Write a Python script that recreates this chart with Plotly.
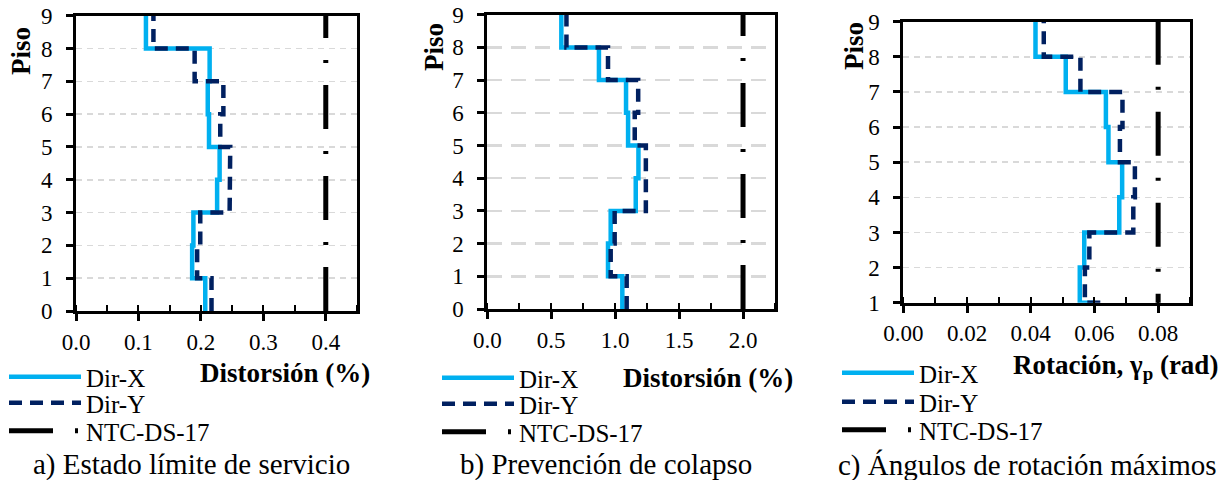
import plotly.graph_objects as go

# ---------------- data ----------------
storeys = [1, 2, 3, 4, 5, 6, 7, 8, 9]

# a) Estado límite de servicio  (drift %, per storey)
a_dir_x = [0.207, 0.186, 0.188, 0.226, 0.230, 0.213, 0.211, 0.214, 0.112]
a_dir_y = [0.217, 0.194, 0.199, 0.246, 0.247, 0.231, 0.236, 0.190, 0.124]
a_limit = 0.4

# b) Prevención de colapso (drift %, per storey)
b_dir_x = [1.056, 0.944, 0.965, 1.161, 1.182, 1.101, 1.085, 0.873, 0.579]
b_dir_y = [1.090, 0.965, 0.996, 1.240, 1.240, 1.153, 1.180, 0.944, 0.619]
b_limit = 2.0

# c) Ángulos de rotación máximos (rad, per storey)
c_dir_x = [0.0594, 0.0554, 0.0568, 0.0678, 0.0687, 0.0644, 0.0636, 0.0510, 0.0415]
c_dir_y = [0.0640, 0.0570, 0.0584, 0.0722, 0.0727, 0.0680, 0.0688, 0.0556, 0.0441]
c_limit = 0.08

series_names = ["Dir-X", "Dir-Y", "NTC-DS-17"]
captions = ["a) Estado límite de servicio", "b) Prevención de colapso",
            "c) Ángulos de rotación máximos"]
x_titles = ["<b>Distorsión (%)</b>", "<b>Distorsión (%)</b>",
            "<b>Rotación, γ<sub>p</sub> (rad)</b>"]

# ---------------- styling ----------------
W, H = 1228, 480
FONT = "Liberation Serif"
C_X = "#00B0F0"
C_Y = "#002060"
C_L = "#000000"


def steps(vals):
    xs, ys = [], []
    for s, v in zip(storeys, vals):
        xs += [v, v]
        ys += [s - 1, s]
    return xs, ys


def fx(px):
    return px / W


def fy(py):
    return 1 - py / H


panels = [
    dict(xd=[76, 357], yd=[15.7, 311], xr=[0, 0.45], dt=0.1, mdt=0.05, fmt=".1f",
         yr=[0, 9], dx=a_dir_x, dy=a_dir_y, lim=a_limit, griddash="6px,5px", gw=1.5,
         leg_x=4, leg_y=[377, 403, 431], title_x=372, title_y=373,
         piso=(21, 51), cap=(191, 464)),
    dict(xd=[487.3, 775], yd=[14.7, 309], xr=[0, 2.25], dt=0.5, mdt=0.25, fmt=".1f",
         yr=[0, 9], dx=b_dir_x, dy=b_dir_y, lim=b_limit, griddash="15px,9px", gw=2.5,
         leg_x=437, leg_y=[378, 404, 432], title_x=795, title_y=378,
         piso=(434, 47), cap=(606, 464)),
    dict(xd=[903.3, 1190], yd=[21.7, 302.7], xr=[0, 0.09], dt=0.02, mdt=0.01, fmt=".2f",
         yr=[1, 9], dx=c_dir_x, dy=c_dir_y, lim=c_limit, griddash="6px,5px", gw=1.5,
         leg_x=837, leg_y=[373, 402, 430], title_x=1220, title_y=367,
         piso=(854, 46), cap=(1027, 465)),
]

fig = go.Figure()
annotations = []
layout = {}

for i, p in enumerate(panels):
    n = i + 1
    xa = "x" if n == 1 else f"x{n}"
    ya = "y" if n == 1 else f"y{n}"
    xkey = "xaxis" if n == 1 else f"xaxis{n}"
    ykey = "yaxis" if n == 1 else f"yaxis{n}"
    lids = [3 * i + k + 1 for k in range(3)]
    lnames = ["legend" if lid == 1 else f"legend{lid}" for lid in lids]

    xs, ys = steps(p["dx"])
    fig.add_trace(go.Scatter(x=xs, y=ys, mode="lines", name=series_names[0],
                             line=dict(color=C_X, width=4.5),
                             xaxis=xa, yaxis=ya, legend=lnames[0], hoverinfo="skip"))
    xs, ys = steps(p["dy"])
    fig.add_trace(go.Scatter(x=xs, y=ys, mode="lines", name=series_names[1],
                             line=dict(color=C_Y, width=4.5, dash="13px,8px"),
                             xaxis=xa, yaxis=ya, legend=lnames[1], hoverinfo="skip"))
    fig.add_trace(go.Scatter(x=[p["lim"], p["lim"]], y=[0, 9], mode="lines",
                             name=series_names[2],
                             line=dict(color=C_L, width=5, dash="44px,22px,3px,22px"),
                             xaxis=xa, yaxis=ya, legend=lnames[2], hoverinfo="skip"))

    layout[xkey] = dict(
        domain=[fx(p["xd"][0]), fx(p["xd"][1])], range=p["xr"], anchor=ya,
        dtick=p["dt"], tick0=0, tickformat=p["fmt"], ticks="outside", ticklen=7,
        tickwidth=3, tickcolor="black", showline=True, linewidth=3, linecolor="black",
        mirror=True, showgrid=False, zeroline=False, automargin=False,
        tickfont=dict(family=FONT, size=23, color="black"), ticklabelstandoff=1,
        minor=dict(dtick=p["mdt"], ticks="inside", ticklen=6, tickwidth=2,
                   tickcolor="black", showgrid=False),
        fixedrange=True,
    )
    layout[ykey] = dict(
        domain=[fy(p["yd"][1]), fy(p["yd"][0])], range=p["yr"], anchor=xa,
        dtick=1, tick0=0, ticks="outside", ticklen=7, tickwidth=3, tickcolor="black",
        showline=True, linewidth=3, linecolor="black", mirror=True, automargin=False,
        showgrid=True, gridcolor="#D9D9D9", gridwidth=p["gw"], griddash=p["griddash"],
        zeroline=False, tickfont=dict(family=FONT, size=23, color="black"),
        ticklabelstandoff=9, fixedrange=True,
    )

    for k in range(3):
        layout[lnames[k]] = dict(
            x=fx(p["leg_x"]), y=fy(p["leg_y"][k]), xanchor="left", yanchor="middle",
            bgcolor="rgba(0,0,0,0)", borderwidth=0, itemwidth=72,
            font=dict(family=FONT, size=25, color="black"), tracegroupgap=0,
            itemclick=False, itemdoubleclick=False,
        )

    annotations.append(dict(text="<b>Piso</b>", x=fx(p["piso"][0]), y=fy(p["piso"][1]),
                            xref="paper", yref="paper", showarrow=False, textangle=-90,
                            xanchor="center", yanchor="middle",
                            font=dict(family=FONT, size=27, color="black")))
    annotations.append(dict(text=x_titles[i], x=fx(p["title_x"]), y=fy(p["title_y"]),
                            xref="paper", yref="paper", showarrow=False,
                            xanchor="right", yanchor="middle",
                            font=dict(family=FONT, size=27, color="black")))
    annotations.append(dict(text=captions[i], x=fx(p["cap"][0]), y=fy(p["cap"][1]),
                            xref="paper", yref="paper", showarrow=False,
                            xanchor="center", yanchor="middle",
                            font=dict(family=FONT, size=29, color="black")))

fig.update_layout(
    width=W, height=H, margin=dict(l=0, r=0, t=0, b=0, pad=0, autoexpand=False),
    paper_bgcolor="white", plot_bgcolor="white",
    annotations=annotations, showlegend=True,
    font=dict(family=FONT, color="black"),
    **layout,
)

fig.write_html(
    "out.html",
    config={"displayModeBar": False, "staticPlot": True},
    post_script="document.body.style.margin='0px';document.body.style.overflow='hidden';",
)
